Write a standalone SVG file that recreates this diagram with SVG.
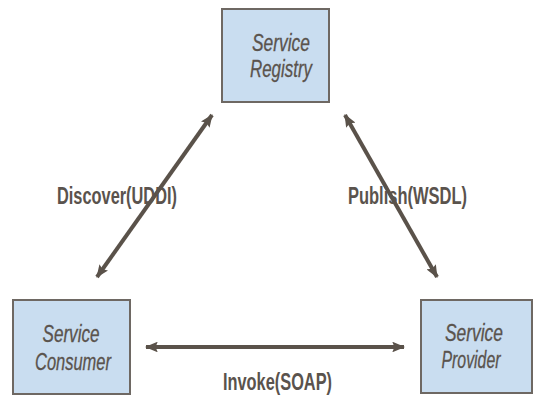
<svg xmlns="http://www.w3.org/2000/svg" width="535" height="397" viewBox="0 0 535 397">
<style>
.box{fill:#c9ddf0;stroke:#6e6863;stroke-width:2}
.nt{font-family:"Liberation Sans",Arial,sans-serif;font-style:italic;font-size:23px;fill:#5a534d;stroke:#5a534d;stroke-width:0.3;text-anchor:middle}
.lt{font-family:"Liberation Sans",Arial,sans-serif;font-weight:bold;font-size:23px;fill:#5a534d}
.ln{stroke:#5a524a;stroke-width:4;fill:none;marker-start:url(#ah);marker-end:url(#ah)}
</style>
<defs>
<marker id="ah" viewBox="0 0 12 10" refX="11" refY="5" markerWidth="3.2" markerHeight="2.7" orient="auto-start-reverse" markerUnits="strokeWidth">
<path d="M0,0 L12,5 L0,10 L2,5 z" fill="#5a524a"/>
</marker>
</defs>
<rect width="535" height="397" fill="#fff"/>
<g id="registry">
<rect class="box" x="222" y="9" width="107" height="93"/>
<text class="nt" x="281" y="51" textLength="58" lengthAdjust="spacingAndGlyphs">Service</text>
<text class="nt" x="281" y="77" textLength="62" lengthAdjust="spacingAndGlyphs">Registry</text>
</g>
<g id="consumer">
<rect class="box" x="13" y="300" width="117" height="94"/>
<text class="nt" x="71" y="342" textLength="57" lengthAdjust="spacingAndGlyphs">Service</text>
<text class="nt" x="73" y="370" textLength="76" lengthAdjust="spacingAndGlyphs">Consumer</text>
</g>
<g id="provider">
<rect class="box" x="421" y="300" width="111" height="93"/>
<text class="nt" x="474" y="341" textLength="58" lengthAdjust="spacingAndGlyphs">Service</text>
<text class="nt" x="471" y="368" textLength="59" lengthAdjust="spacingAndGlyphs">Provider</text>
</g>
<g id="connectors">
<line class="ln" x1="212" y1="115" x2="97" y2="277"/>
<line class="ln" x1="345" y1="115" x2="437" y2="277"/>
<line class="ln" x1="146" y1="347" x2="404" y2="347"/>
<text class="lt" x="57" y="204" textLength="120" lengthAdjust="spacingAndGlyphs">Discover(UDDI)</text>
<text class="lt" x="348" y="204" textLength="119" lengthAdjust="spacingAndGlyphs">Publish(WSDL)</text>
<text class="lt" x="223" y="390" textLength="109" lengthAdjust="spacingAndGlyphs">Invoke(SOAP)</text>
</g>
</svg>
